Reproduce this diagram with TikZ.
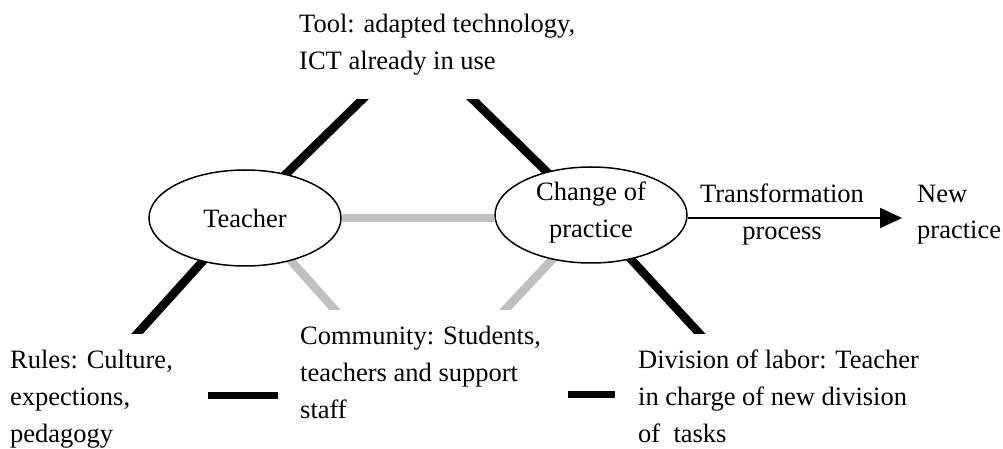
\documentclass[tikz,border=0pt]{standalone}
\usepackage{fontspec}
\setmainfont{Liberation Serif}
\usetikzlibrary{arrows.meta,shapes.geometric}
\definecolor{greyline}{RGB}{192,192,192}
\begin{document}
\begin{tikzpicture}[x=1bp,y=-1bp,
  txt/.style={inner sep=0pt,align=left,font=\fontsize{26.5bp}{36.5bp}\selectfont},
  ctxt/.style={inner sep=0pt,align=center,font=\fontsize{26.5bp}{36.5bp}\selectfont},
  oval/.style={ellipse,draw,line width=1.5bp,fill=white,minimum width=192bp,minimum height=96bp,inner sep=0pt,align=center,font=\fontsize{26.5bp}{35bp}\selectfont},
  blk/.style={line width=8.5bp,black},
  gry/.style={line width=8.5bp,greyline},
  bar/.style={line width=7bp,black}]
\useasboundingbox (0,0) rectangle (1003,449);
% end points of spokes
\coordinate (ulA) at (244,215);  \coordinate (ulB) at (372,90);
\coordinate (urA) at (463,90);   \coordinate (urB) at (591,215);
\coordinate (llA) at (231,230);  \coordinate (llB) at (127,345);
\coordinate (lgA) at (263.5,230);\coordinate (lgB) at (344,320);
\coordinate (rgA) at (580,230);  \coordinate (rgB) at (495.6,320);
\coordinate (rbA) at (604,230);  \coordinate (rbB) at (710,345);
\begin{scope}
  \clip (0,100) rectangle (1003,334);
  \draw[blk] (ulA) -- (ulB);
  \draw[blk] (urA) -- (urB);
  \draw[blk] (llA) -- (llB);
  \draw[blk] (rbA) -- (rbB);
\end{scope}
\begin{scope}
  \clip (0,100) rectangle (1003,310);
  \draw[gry] (lgA) -- (lgB);
  \draw[gry] (rgA) -- (rgB);
\end{scope}
\node[oval] (teacher) at (245,218) {Teacher};
\node[oval] (change) at (591,215) {};
\node[ctxt,anchor=base] (changetxt) at (591,237.5) {Change of\\practice};
\draw[gry] (teacher.east) -- (change.west |- teacher.east);
% arrow
\coordinate (arrowEnd) at (902,218);
\draw[line width=2bp,-{Triangle[length=22bp,width=20bp]}] (change.east |- arrowEnd) -- (arrowEnd);
\node[ctxt,anchor=base] (trans) at (782,239.5) {Transformation\\process};
\node[txt,anchor=base west] (newp) at (917,239) {New\\practice};
% texts
\node[txt,anchor=base west] (tool) at (299,69.5) {Tool: adapted technology,\\ICT already in use};
\node[txt,anchor=base west] (rules) at (10,442) {Rules: Culture,\\expections,\\pedagogy};
\node[txt,anchor=base west] (comm) at (300,418) {Community: Students,\\teachers and support\\staff};
\node[txt,anchor=base west] (div) at (638,442) {Division of labor: Teacher\\in charge of new division\\of\ \ tasks};
% bars
\coordinate (b1a) at (208,395.5); \coordinate (b1b) at (278,395.5);
\coordinate (b2a) at (568,395);   \coordinate (b2b) at (615,395);
\draw[bar] (b1a) -- (b1b);
\draw[bar] (b2a) -- (b2b);
\end{tikzpicture}
\end{document}
